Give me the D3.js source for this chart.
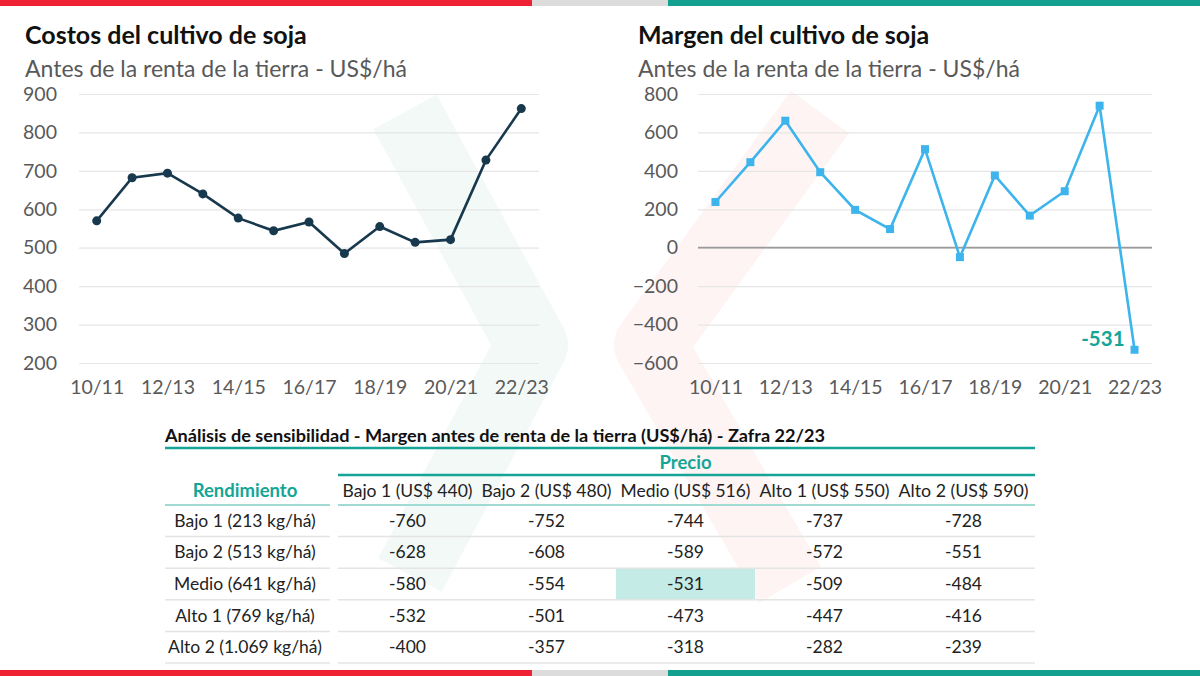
<!DOCTYPE html>
<html>
<head>
<meta charset="utf-8">
<script src="https://cdn.jsdelivr.net/npm/d3@7"></script>
<style>
  body { margin: 0; background: #fff; }
  text { font-family: Lato, "Open Sans", sans-serif; }
  .grid line { stroke: #e6e6e6; stroke-width: 1.2; }
  .grid text, .xaxis text { fill: #595959; font-size: 19.5px; }
</style>
</head>
<body>
<div id="chart"></div>
<script>
var width = 1200,
    height = 676;

// datos
var seasons = ["10/11","11/12","12/13","13/14","14/15","15/16","16/17","17/18","18/19","19/20","20/21","21/22","22/23"];
var costos = [570, 682, 694, 640, 577, 544, 567, 485, 555, 514, 521, 728, 862];
var margen = [238, 445, 661, 393, 197, 97, 513, -49, 376, 167, 294, 739, -531];
var costosTicks = [200, 300, 400, 500, 600, 700, 800, 900];
var margenTicks = [-600, -400, -200, 0, 200, 400, 600, 800];
var xLabels = ["10/11","12/13","14/15","16/17","18/19","20/21","22/23"];

var precios = ["Bajo 1 (US$ 440)", "Bajo 2 (US$ 480)", "Medio (US$ 516)", "Alto 1 (US$ 550)", "Alto 2 (US$ 590)"];
var rendimientos = ["Bajo 1 (213 kg/há)", "Bajo 2 (513 kg/há)", "Medio (641 kg/há)", "Alto 1 (769 kg/há)", "Alto 2 (1.069 kg/há)"];
var sensibilidad = [
  [-760, -752, -744, -737, -728],
  [-628, -608, -589, -572, -551],
  [-580, -554, -531, -509, -484],
  [-532, -501, -473, -447, -416],
  [-400, -357, -318, -282, -239]
];

var teal = "#14a596";

var svg = d3.select("#chart").append("svg")
  .attr("width", width)
  .attr("height", height);

// barras de color arriba y abajo
[0, 670].forEach(function(y) {
  svg.append("rect").attr("x", 0).attr("y", y).attr("width", 532).attr("height", 6).attr("fill", "#ee2232");
  svg.append("rect").attr("x", 532).attr("y", y).attr("width", 136).attr("height", 6).attr("fill", "#dcdcdc");
  svg.append("rect").attr("x", 668).attr("y", y).attr("width", 532).attr("height", 6).attr("fill", "#13a08f");
});

// marca de agua
var wm = svg.append("g").attr("fill", "none").attr("stroke-linejoin", "round").attr("stroke-width", 72);
wm.append("polyline").attr("points", "405,112 532,345 410,575").attr("stroke", "#f2f9f6");
wm.append("polyline").attr("points", "820,112 650,345 790,585").attr("stroke", "#fef4f4");

function lineChart(opts) {
  var g = svg.append("g");

  g.append("text").attr("x", opts.tx).attr("y", 44)
    .attr("font-size", 25).attr("font-weight", "bold").attr("fill", "#111")
    .text(opts.title);
  g.append("text").attr("x", opts.tx).attr("y", 77)
    .attr("font-size", 23).attr("fill", "#595959")
    .text("Antes de la renta de la tierra - US$/há");

  var x = d3.scalePoint().domain(seasons).range(opts.xr).padding(0.5);
  var y = d3.scaleLinear().domain(opts.domain).range([363, 94]);

  g.append("g").attr("class", "grid")
    .attr("transform", "translate(" + opts.xr[0] + ",0)")
    .call(d3.axisLeft(y).tickValues(opts.ticks).tickSize(-(opts.xr[1] - opts.xr[0])).tickPadding(opts.pad))
    .call(function(a) { a.select(".domain").remove(); });

  if (opts.zero) {
    g.append("line").attr("x1", opts.xr[0]).attr("x2", opts.xr[1])
      .attr("y1", y(0)).attr("y2", y(0))
      .attr("stroke", "#9a9a9a").attr("stroke-width", 1.8);
  }

  g.append("g").attr("class", "xaxis")
    .attr("transform", "translate(0,373)")
    .call(d3.axisBottom(x).tickValues(xLabels).tickSize(0).tickPadding(7))
    .call(function(a) { a.select(".domain").remove(); });

  var line = d3.line().x(function(d, i) { return x(seasons[i]); }).y(function(d) { return y(d); });
  g.append("path").datum(opts.values)
    .attr("d", line).attr("fill", "none")
    .attr("stroke", opts.color).attr("stroke-width", 2.6);

  if (opts.square) {
    g.selectAll("rect.m").data(opts.values).enter().append("rect")
      .attr("class", "m")
      .attr("x", function(d, i) { return x(seasons[i]) - 4; })
      .attr("y", function(d) { return y(d) - 4; })
      .attr("width", 8).attr("height", 8)
      .attr("fill", opts.color);
  } else {
    g.selectAll("circle").data(opts.values).enter().append("circle")
      .attr("cx", function(d, i) { return x(seasons[i]); })
      .attr("cy", function(d) { return y(d); })
      .attr("r", 4.5)
      .attr("fill", opts.color);
  }
  return { x: x, y: y };
}

lineChart({ title: "Costos del cultivo de soja", tx: 25, xr: [79, 539], domain: [200, 900],
  ticks: costosTicks, pad: 22, values: costos, color: "#17384d" });

var m = lineChart({ title: "Margen del cultivo de soja", tx: 638, xr: [698, 1152], domain: [-600, 800],
  ticks: margenTicks, pad: 20, values: margen, color: "#3db4ec", square: true, zero: true });

var last = margen[margen.length - 1];
svg.append("text")
  .attr("x", m.x(seasons[seasons.length - 1]) - 10)
  .attr("y", m.y(last) - 4)
  .attr("text-anchor", "end")
  .attr("font-size", 20.5).attr("font-weight", "bold").attr("fill", teal)
  .text(last);

// tabla de sensibilidad
var t = svg.append("g");
var colX = d3.scaleBand().domain(precios).range([338, 1033]);
var rowY = d3.scaleBand().domain(rendimientos).range([505, 663]);
var fs = 17.5;

t.append("text").attr("x", 165).attr("y", 442)
  .attr("font-size", 16.5).attr("font-weight", "bold").attr("fill", "#111")
  .attr("textLength", 660).attr("lengthAdjust", "spacingAndGlyphs")
  .text("Análisis de sensibilidad - Margen antes de renta de la tierra (US$/há) - Zafra 22/23");
t.append("line").attr("x1", 165).attr("x2", 1035).attr("y1", 448).attr("y2", 448)
  .attr("stroke", teal).attr("stroke-width", 2.5);

t.append("text").attr("x", (338 + 1033) / 2).attr("y", 469)
  .attr("text-anchor", "middle").attr("font-size", 18.5).attr("font-weight", "bold").attr("fill", teal)
  .text("Precio");
t.append("line").attr("x1", 338).attr("x2", 1035).attr("y1", 475).attr("y2", 475)
  .attr("stroke", teal).attr("stroke-width", 2.5);

t.append("text").attr("x", 245).attr("y", 497)
  .attr("text-anchor", "middle").attr("font-size", 18.5).attr("font-weight", "bold").attr("fill", teal)
  .text("Rendimiento");

t.selectAll("text.ph").data(precios).enter().append("text")
  .attr("class", "ph")
  .attr("x", function(d) { return colX(d) + colX.bandwidth() / 2; })
  .attr("y", 497)
  .attr("text-anchor", "middle").attr("font-size", fs).attr("fill", "#222")
  .attr("textLength", 130).attr("lengthAdjust", "spacingAndGlyphs")
  .text(function(d) { return d; });

// lineas bajo el encabezado
t.append("line").attr("x1", 165).attr("x2", 330).attr("y1", 505).attr("y2", 505)
  .attr("stroke", "#9fdad3").attr("stroke-width", 2);
t.append("line").attr("x1", 338).attr("x2", 1035).attr("y1", 505).attr("y2", 505)
  .attr("stroke", "#9fdad3").attr("stroke-width", 2);

// celda destacada
t.append("rect")
  .attr("x", colX(precios[2])).attr("y", rowY(rendimientos[2]))
  .attr("width", colX.bandwidth()).attr("height", rowY.bandwidth())
  .attr("fill", "#c4ebe6");

var rows = t.selectAll("g.row").data(rendimientos).enter().append("g").attr("class", "row");

rows.append("line")
  .attr("x1", 165).attr("x2", 330)
  .attr("y1", function(d) { return rowY(d) + rowY.bandwidth(); })
  .attr("y2", function(d) { return rowY(d) + rowY.bandwidth(); })
  .attr("stroke", "#e4e4e4").attr("stroke-width", 1.5);
rows.append("line")
  .attr("x1", 338).attr("x2", 1035)
  .attr("y1", function(d) { return rowY(d) + rowY.bandwidth(); })
  .attr("y2", function(d) { return rowY(d) + rowY.bandwidth(); })
  .attr("stroke", "#e4e4e4").attr("stroke-width", 1.5);

rows.append("text")
  .attr("x", 245)
  .attr("y", function(d) { return rowY(d) + rowY.bandwidth() / 2 + 6; })
  .attr("text-anchor", "middle").attr("font-size", fs).attr("fill", "#222")
  .text(function(d) { return d; });

rows.each(function(r, i) {
  d3.select(this).selectAll("text.v").data(sensibilidad[i]).enter().append("text")
    .attr("class", "v")
    .attr("x", function(d, j) { return colX(precios[j]) + colX.bandwidth() / 2; })
    .attr("y", rowY(r) + rowY.bandwidth() / 2 + 6)
    .attr("text-anchor", "middle").attr("font-size", fs).attr("fill", "#222")
    .text(function(d) { return d; });
});
</script>
</body>
</html>
